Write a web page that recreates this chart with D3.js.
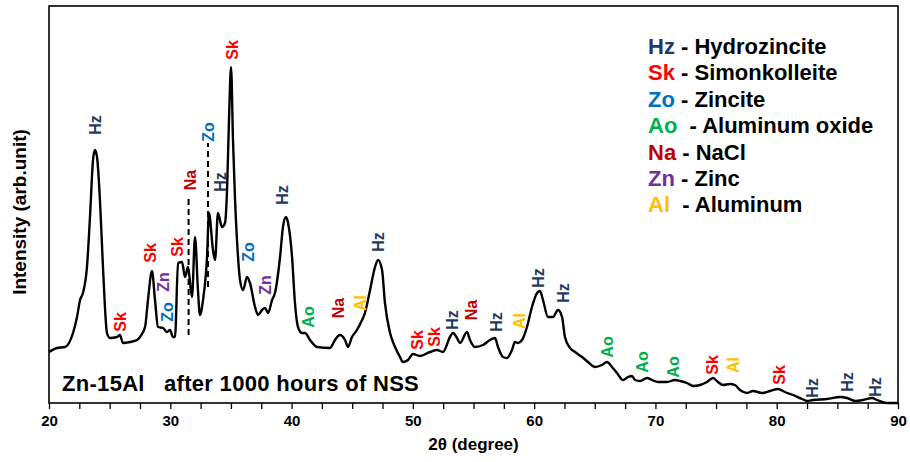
<!DOCTYPE html>
<html>
<head>
<meta charset="utf-8">
<script src="https://cdn.jsdelivr.net/npm/d3@7"></script>
<style>
  body { margin: 0; background: #fff; }
  text { font-family: "Liberation Sans", Arial, sans-serif; font-weight: bold; }
</style>
</head>
<body>
<div id="chart"></div>
<script>
// XRD pattern (2theta in degrees, intensity in arbitrary units)
const twoTheta = [20.00, 20.66, 21.32, 21.98, 22.31, 22.56, 22.80, 23.13, 23.38, 23.63, 23.79, 23.96, 24.20, 24.45, 24.78,
  25.03, 25.61, 25.85, 26.10, 26.68, 27.26, 27.50, 27.92, 28.16, 28.49, 28.74, 28.99, 29.40, 29.73, 29.98, 30.22, 30.39,
  30.64, 30.97, 31.21, 31.46, 31.79, 32.04, 32.28, 32.45, 32.70, 33.03, 33.19, 33.52, 33.69, 33.93, 34.26, 34.51, 34.68,
  34.84, 35.01, 35.17, 35.34, 35.50, 35.75, 36.00, 36.33, 36.57, 36.99, 37.23, 37.56, 37.81, 38.06, 38.39, 38.63, 39.05,
  39.29, 39.54, 39.71, 40.04, 40.28, 40.53, 40.86, 41.11, 41.52, 42.10, 43.17, 43.58, 43.99, 44.41, 44.65, 44.98, 45.39,
  45.81, 46.05, 46.47, 46.88, 47.13, 47.46, 47.70, 48.12, 48.53, 48.94, 49.19, 49.60, 50.01, 50.59, 51.41, 51.99, 52.49,
  53.06, 53.31, 53.64, 53.89, 54.46, 54.71, 55.12, 55.78, 56.36, 56.77, 57.02, 57.43, 57.76, 58.17, 58.42, 58.67, 59.00,
  59.41, 59.82, 60.24, 60.48, 60.73, 61.14, 61.55, 61.97, 62.30, 62.54, 62.96, 63.37, 63.95, 64.44, 65.02, 65.59, 66.01,
  66.42, 66.83, 67.33, 67.74, 68.07, 68.32, 68.73, 69.31, 69.72, 70.21, 70.95, 71.61, 72.03, 72.60, 73.10, 73.68, 74.25,
  74.75, 75.16, 75.57, 76.15, 76.56, 76.97, 77.55, 78.04, 78.79, 79.45, 80.11, 80.68, 81.34, 82.09, 82.50, 82.99, 84.15,
  85.22, 85.80, 86.46, 87.11, 87.86, 88.27, 88.68, 89.09, 90.00];
const intensity = [51, 55, 56, 70, 86, 103, 110, 136, 186, 243, 253, 246, 203, 136, 70,
  65, 66, 68, 60, 61, 63, 66, 76, 103, 132, 103, 76, 75, 71, 73, 66, 66,
  140, 141, 126, 136, 106, 166, 113, 88, 103, 146, 190, 153, 143, 190, 176, 180, 213,
  283, 336, 263, 203, 163, 123, 113, 126, 120, 96, 88, 93, 95, 90, 103, 110, 146,
  176, 186, 180, 146, 100, 76, 70, 70, 63, 56, 55, 63, 68, 63, 56, 66, 73,
  83, 90, 113, 136, 143, 133, 100, 70, 56, 46, 41, 43, 49, 47, 51, 53, 51,
  66, 70, 65, 60, 71, 63, 56, 58, 63, 65, 56, 46, 45, 53, 61, 60, 63,
  76, 96, 110, 112, 103, 86, 86, 93, 86, 66, 55, 51, 46, 41, 36, 38, 41,
  36, 30, 23, 26, 27, 23, 22, 25, 23, 21, 21, 23, 22, 20, 17, 18, 21,
  25, 21, 18, 19, 18, 13, 10, 12, 10, 12, 14, 11, 8, 4, 2, 3, 4,
  6, 5, 2, 3, 5, 3, 1, 0, 0];

// Phase labels on the peaks
const peakCodes = ["Hz", "Sk", "Sk", "Zn", "Zo", "Sk", "Na", "Zo", "Hz", "Sk", "Zo", "Zn", "Hz", "Ao", "Na", "Al", "Hz",
  "Sk", "Sk", "Hz", "Na", "Hz", "Al", "Hz", "Hz", "Ao", "Ao", "Ao", "Sk", "Al", "Sk", "Hz", "Hz", "Hz"];
const peakAngles = [23.79, 25.85, 28.33, 29.40, 29.73, 30.55, 31.63, 33.11, 34.10, 35.09, 36.41, 37.81, 39.21, 41.35,
  43.83, 45.64, 47.13, 50.34, 51.74, 53.23, 54.79, 56.86, 58.75, 60.32, 62.38, 66.01, 68.89, 71.45, 74.66, 76.40, 80.19,
  82.91, 85.80, 88.11];
const peakLabelLevels = [278, 81, 150, 121, 91, 156, 223, 271, 221, 353, 151, 118, 208, 86, 95, 100, 161, 63, 66, 83,
  93, 81, 82, 125, 110, 56, 41, 36, 38, 38, 28, 15, 21, 16];

// Dashed marker lines: [angle, from, to]
const markerAngles = [31.51, 33.11];
const markerFrom = [68, 116];
const markerTo = [208, 260];

// Legend
const legendCodes = ["Hz", "Sk", "Zo", "Ao", "Na", "Zn", "Al"];
const legendNames = ["Hydrozincite", "Simonkolleite", "Zincite", "Aluminum oxide", "NaCl", "Zinc", "Aluminum"];
const phaseColors = { Hz: "#1f3864", Sk: "#ff0000", Zo: "#0070c0", Ao: "#00b050", Na: "#c00000", Zn: "#7030a0", Al: "#ffc000" };

const xTicks = d3.range(20, 90.01, 2.5);

const margin = { top: 6, right: 12, bottom: 59, left: 49 };
const width = 910 - margin.left - margin.right;
const height = 462 - margin.top - margin.bottom;

const svg = d3.select("#chart")
    .append("svg")
    .attr("width", 910)
    .attr("height", 462)
    .append("g")
    .attr("transform", `translate(${margin.left},${margin.top})`);

const x = d3.scaleLinear().domain([20, 90]).range([0, width]);
const y = d3.scaleLinear().domain([0, 397]).range([height, 0]);

// Axis
const xAxis = svg.append("g")
    .attr("transform", `translate(0,${height})`)
    .call(d3.axisBottom(x)
        .tickValues(xTicks)
        .tickSize(6)
        .tickPadding(6)
        .tickFormat(d => d % 10 === 0 ? d : ""));
xAxis.select(".domain").remove();
xAxis.selectAll(".tick line").attr("stroke", "#000").attr("stroke-width", 1.3);
xAxis.selectAll(".tick text")
    .attr("fill", "#000")
    .style("font-size", "15px");

// Frame
svg.append("rect")
    .attr("width", width)
    .attr("height", height)
    .attr("fill", "none")
    .attr("stroke", "#000")
    .attr("stroke-width", 1.6);

// Pattern
const points = twoTheta.map((t, i) => [t, intensity[i]]);
const line = d3.line()
    .x(d => x(d[0]))
    .y(d => y(d[1]))
    .curve(d3.curveMonotoneX);

svg.append("path")
    .datum(points)
    .attr("d", line)
    .attr("fill", "none")
    .attr("stroke", "#000")
    .attr("stroke-width", 2.4)
    .attr("stroke-linejoin", "round");

// Dashed markers
svg.selectAll(".marker")
    .data(markerAngles)
    .enter()
    .append("line")
    .attr("class", "marker")
    .attr("x1", d => x(d))
    .attr("x2", d => x(d))
    .attr("y1", (d, i) => y(markerFrom[i]))
    .attr("y2", (d, i) => y(markerTo[i]))
    .attr("stroke", "#000")
    .attr("stroke-width", 2)
    .attr("stroke-dasharray", "6,4");

// Peak labels (rotated)
svg.selectAll(".peak")
    .data(peakCodes)
    .enter()
    .append("text")
    .attr("class", "peak")
    .attr("transform", (d, i) => `translate(${x(peakAngles[i])},${y(peakLabelLevels[i])}) rotate(-90)`)
    .attr("text-anchor", "middle")
    .attr("dy", "0.36em")
    .style("font-size", "16px")
    .attr("fill", d => phaseColors[d])
    .text(d => d);

// Legend
const legend = svg.append("g")
    .attr("transform", `translate(${648 - margin.left}, ${46 - margin.top})`);

legend.selectAll(".legend-item")
    .data(legendCodes)
    .enter()
    .append("text")
    .attr("class", "legend-item")
    .attr("y", (d, i) => i * 26.4)
    .attr("dy", "0.36em")
    .style("font-size", "22px")
    .each(function (d, i) {
        const t = d3.select(this);
        t.append("tspan").attr("fill", phaseColors[d]).text(d);
        t.append("tspan").attr("fill", "#000")
            .text((d === "Ao" || d === "Al" ? "\u00a0\u00a0- " : " - ") + legendNames[i]);
    });

// Sample note
svg.append("text")
    .attr("x", 62 - margin.left)
    .attr("y", 383 - margin.top)
    .attr("dy", "0.36em")
    .style("font-size", "22px")
    .style("letter-spacing", "0.3px")
    .attr("fill", "#000")
    .style("white-space", "pre")
    .text("Zn-15Al   after 1000 hours of NSS");

// Axis titles
svg.append("text")
    .attr("x", width / 2)
    .attr("y", height + 47)
    .attr("text-anchor", "middle")
    .style("font-size", "17px")
    .attr("fill", "#000")
    .text("2\u03b8 (degree)");

svg.append("text")
    .attr("transform", "rotate(-90)")
    .attr("x", -(212 - margin.top))
    .attr("y", 19 - margin.left)
    .attr("dy", "0.36em")
    .attr("text-anchor", "middle")
    .style("font-size", "19px")
    .attr("fill", "#000")
    .text("Intensity (arb.unit)");
</script>
</body>
</html>
